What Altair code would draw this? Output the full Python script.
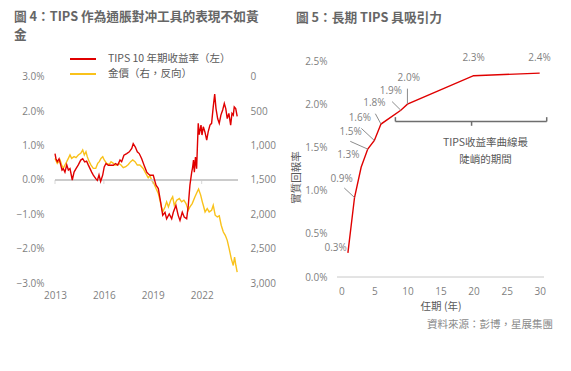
import altair as alt
import pandas as pd

# ---------------- text ----------------
left_title = ["圖 4：TIPS 作為通脹對冲工具的表現不如黃", "金"]
right_title = "圖 5：長期 TIPS 具吸引力"
legend_labels = ["TIPS 10 年期收益率（左）", "金價（右，反向）"]
source_text = "資料來源：彭博，星展集團"
note_lines = ["TIPS收益率曲線最", "陡峭的期間"]
x_title_right = "任期 (年)"
y_title_right = "實質回報率"

# ---------------- ticks ----------------
year_ticks = [2013, 2016, 2019, 2022]
pct_ticks = [-3, -2, -1, 0, 1, 2, 3]
gold_ticks = [0, 500, 1000, 1500, 2000, 2500, 3000]
mat_ticks = [0, 5, 10, 15, 20, 25, 30]
yld_ticks = [0, 0.5, 1, 1.5, 2, 2.5]

# ---------------- left panel data ----------------
red_years = [2013.00, 2013.06, 2013.14, 2013.25, 2013.35, 2013.43, 2013.51, 2013.61, 2013.72, 2013.82,
             2013.92, 2014.06, 2014.17, 2014.29, 2014.43, 2014.58, 2014.70, 2014.82, 2014.94, 2015.04,
             2015.15, 2015.25, 2015.35, 2015.50, 2015.60, 2015.70, 2015.80, 2015.93, 2016.02, 2016.13,
             2016.27, 2016.42, 2016.58, 2016.72, 2016.85, 2016.99, 2017.09, 2017.23, 2017.40, 2017.56,
             2017.71, 2017.80, 2017.93, 2018.05, 2018.17, 2018.32, 2018.46, 2018.63, 2018.72, 2018.83,
             2019.03, 2019.20, 2019.34, 2019.48, 2019.61, 2019.75, 2019.85, 2020.01, 2020.16, 2020.26,
             2020.42, 2020.56, 2020.67, 2020.81, 2020.93, 2021.08, 2021.18, 2021.28, 2021.39, 2021.44,
             2021.50, 2021.55, 2021.62, 2021.69, 2021.79, 2021.85, 2021.96, 2022.02, 2022.10, 2022.20,
             2022.31, 2022.40, 2022.51, 2022.61, 2022.71, 2022.80, 2022.88, 2022.98, 2023.08, 2023.18,
             2023.29, 2023.39, 2023.48, 2023.57, 2023.67, 2023.78, 2023.86, 2023.94, 2024.00, 2024.09,
             2024.18]
red_pct = [0.77, 0.62, 0.53, 0.62, 0.44, 0.29, 0.33, 0.23, 0.44, 0.29,
           0.33, 0.00, 0.23, 0.33, 0.44, 0.58, 0.62, 0.53, 0.55, 0.44,
           0.33, 0.23, 0.14, 0.04, -0.01, 0.15, -0.04, 0.15, 0.38, 0.48,
           0.43, 0.43, 0.43, 0.48, 0.43, 0.58, 0.53, 0.72, 0.77, 0.82,
           0.92, 1.06, 0.96, 0.82, 0.77, 0.62, 0.44, 0.23, 0.18, 0.14,
           0.14, -0.15, -0.25, -0.64, -1.03, -0.94, -1.13, -0.99, -1.13, -0.94,
           -0.74, -1.03, -1.18, -0.94, -1.08, -1.13, -0.74, -0.15, 0.23, 0.35,
           0.58, 0.23, 0.67, 0.33, 1.65, 1.32, 1.60, 1.31, 1.55, 1.40,
           1.16, 1.40, 1.60, 1.65, 2.13, 2.50, 2.08, 1.79, 1.65, 1.89,
           2.04, 2.23, 2.08, 1.79, 1.94, 1.60, 1.94, 1.89, 2.13, 2.08,
           1.85]

gold_years = [2013.00, 2013.14, 2013.31, 2013.41, 2013.51, 2013.61, 2013.72, 2013.82, 2013.92, 2014.02,
              2014.17, 2014.29, 2014.43, 2014.58, 2014.70, 2014.80, 2014.90, 2014.98, 2015.10, 2015.21,
              2015.35, 2015.50, 2015.62, 2015.72, 2015.82, 2015.93, 2016.02, 2016.17, 2016.33, 2016.44,
              2016.58, 2016.68, 2016.79, 2016.91, 2017.05, 2017.19, 2017.34, 2017.50, 2017.64, 2017.77,
              2017.91, 2018.05, 2018.21, 2018.41, 2018.63, 2018.72, 2018.83, 2018.93, 2019.07, 2019.20,
              2019.34, 2019.44, 2019.53, 2019.61, 2019.75, 2019.85, 2019.96, 2020.10, 2020.22, 2020.32,
              2020.47, 2020.63, 2020.77, 2020.91, 2021.04, 2021.18, 2021.28, 2021.42, 2021.59, 2021.73,
              2021.81, 2021.94, 2022.04, 2022.10, 2022.21, 2022.34, 2022.46, 2022.61, 2022.71, 2022.83,
              2022.96, 2023.08, 2023.20, 2023.33, 2023.45, 2023.57, 2023.69, 2023.82, 2023.94, 2024.02,
              2024.10, 2024.18]
gold_vals = [1185, 1258, 1208, 1282, 1331, 1282, 1233, 1185, 1135, 1185,
             1160, 1175, 1135, 1112, 1062, 1135, 1087, 1160, 1233, 1282,
             1331, 1331, 1258, 1233, 1185, 1160, 1208, 1258, 1273, 1233,
             1258, 1282, 1282, 1258, 1282, 1321, 1306, 1273, 1233, 1208,
             1233, 1282, 1282, 1331, 1428, 1467, 1438, 1501, 1551, 1624,
             1697, 1794, 1892, 1965, 1892, 1818, 1892, 1794, 1745, 1867,
             1794, 1770, 1818, 1794, 1843, 1940, 1892, 1843, 1745, 1672,
             1633, 1720, 1818, 1867, 1965, 1917, 1965, 1940, 1867, 2013,
             2038, 2023, 2159, 2257, 2306, 2379, 2502, 2648, 2745, 2623,
             2745, 2843]

# ---------------- right panel data ----------------
curve_mat = [1, 2, 3, 4, 5, 6, 9, 10, 20, 30]
curve_yld = [0.28, 0.92, 1.27, 1.48, 1.58, 1.77, 1.93, 2.00, 2.33, 2.36]

# label anchor positions (data units)
label_x = [-0.86, 0.05, 1.06, 1.41, 2.8, 5.0, 7.5, 10.2, 20.0, 29.97]
label_y = [0.33, 1.14, 1.41, 1.68, 1.84, 2.01, 2.15, 2.30, 2.53, 2.535]
# leader lines: start (data units) for the labelled points
leader_idx = [1, 3, 4, 5, 6, 7]
leader_x = [0.45, 1.36, 3.03, 5.15, 7.68, 10.0]
leader_y = [1.03, 1.57, 1.72, 1.89, 2.03, 2.18]
# bracket annotation segments
br_x = [8.18, 8.18, 31.06, 19.7]
br_y = [1.80, 1.85, 1.85, 1.80]
br_x2 = [31.06, 8.18, 31.06, 19.7]
br_y2 = [1.80, 1.80, 1.80, 1.75]
note_x = [21.8, 21.8]
note_y = [1.555, 1.35]

# ---------------- styles ----------------
NUM = "Open Sans, Noto Sans CJK TC, sans-serif"
CJK = "Noto Sans CJK TC, Noto Sans, sans-serif"
GRAY = "#7f7f7f"
TXT = "#595959"
RED = "#e00000"
GOLD = "#f9c21b"
ZERO = "#c8c8c8"
W1, W2, H = 183, 207, 222


def text_at(txt, x, y, **kw):
    return alt.Chart(pd.DataFrame({"t": [txt]})).mark_text(**kw).encode(
        text="t:N", x=alt.value(x), y=alt.value(y))


def axis_common(**kw):
    base = dict(domain=False, ticks=False, tickSize=0, grid=False, labelFlush=False,
                labelOverlap=False, labelFont=NUM, labelFontSize=10, labelColor=GRAY)
    base.update(kw)
    return alt.Axis(**base)


# shared scale / axis definitions
xs_left = alt.Scale(domain=[2013, 2024.23], nice=False, zero=False)
xa_left = axis_common(values=year_ticks, format="d", labelPadding=7)
ys_left = alt.Scale(domain=[-0.03, 0.03466], nice=False, zero=False)
ya_left = axis_common(values=[v / 100 for v in pct_ticks], format=".1%", orient="left", labelPadding=11)

xs_right = alt.Scale(domain=[-0.65, 30.65], nice=False, zero=False)
xa_right = axis_common(values=mat_ticks, format="d", labelPadding=3,
                       titleFont=CJK, titleFontSize=10.5, titleFontWeight="normal",
                       titleColor=TXT, titleX=W2 / 2, titleY=23.5,
                       titleBaseline="middle", titleAlign="center")
ys_right = alt.Scale(domain=[-0.000694, 0.025], nice=False, zero=False)
ya_right = axis_common(values=[v / 100 for v in yld_ticks], format=".1%", labelPadding=10,
                       titleFont=CJK, titleFontSize=10.5, titleFontWeight="normal",
                       titleColor=TXT, titleX=-41, titleY=116, titleAngle=-90,
                       titleBaseline="middle", titleAlign="center")


def XL(f):
    return alt.X(f, title=None, scale=xs_left, axis=xa_left)


def YL(f):
    return alt.Y(f, title=None, scale=ys_left, axis=ya_left)


def XR(f):
    return alt.X(f, title=x_title_right, scale=xs_right, axis=xa_right)


def YR(f):
    return alt.Y(f, title=y_title_right, scale=ys_right, axis=ya_right)


# ================= LEFT PANEL =================
red_df = pd.DataFrame({"year": red_years, "tips": [v / 100 for v in red_pct]})
gold_df = pd.DataFrame({"year": gold_years, "gold": gold_vals})
zero_df = pd.DataFrame({"year": year_ticks, "tips": [0.0] * len(year_ticks)})

red_line = alt.Chart(red_df).mark_line(color=RED, strokeWidth=1.4).encode(
    x=XL("year:Q"), y=YL("tips:Q"))

zero_left = alt.Chart(zero_df).mark_rule(color=ZERO, strokeWidth=1).encode(
    y=YL("tips:Q"), x=alt.value(0), x2=alt.value(W1))

ticks_left = alt.Chart(zero_df).mark_tick(
    orient="vertical", size=4, thickness=1, yOffset=2, color=ZERO).encode(
    x=XL("year:Q"), y=YL("tips:Q"))

leg_red = alt.Chart(pd.DataFrame({"k": [0]})).mark_rule(color=RED, strokeWidth=2).encode(
    x=alt.value(15), x2=alt.value(41), y=alt.value(-2))
leg_gold = alt.Chart(pd.DataFrame({"k": [0]})).mark_rule(color=GOLD, strokeWidth=2).encode(
    x=alt.value(15), x2=alt.value(41), y=alt.value(13))

tstyle = dict(align="left", baseline="middle", font=CJK, fontSize=12.7, fontWeight="bold", color="#666666")
lstyle = dict(align="left", baseline="middle", font=CJK, fontSize=10.5, color=TXT)

red_group = alt.layer(
    zero_left, ticks_left, red_line, leg_red, leg_gold,
    text_at(legend_labels[0], 53, -2, **lstyle),
    text_at(legend_labels[1], 53, 13, **lstyle),
    text_at(left_title[0], -41, -44, **tstyle),
    text_at(left_title[1], -41, -26, **tstyle),
)

gold_line = alt.Chart(gold_df).mark_line(color=GOLD, strokeWidth=1.4).encode(
    x=XL("year:Q"),
    y=alt.Y("gold:Q", title=None,
            scale=alt.Scale(domain=[-233, 3000], reverse=True, nice=False, zero=False),
            axis=axis_common(values=gold_ticks, format=",d", orient="right", labelPadding=12)),
)

left = alt.layer(gold_line, red_group).resolve_scale(y="independent").properties(width=W1, height=H)

# ================= RIGHT PANEL =================
curve_df = pd.DataFrame({"mat": curve_mat, "yld": [v / 100 for v in curve_yld]})
label_df = pd.DataFrame({"mat": label_x, "yld": [v / 100 for v in label_y],
                         "val": [v / 100 for v in curve_yld]})
leader_df = pd.DataFrame({"mat": leader_x, "yld": [v / 100 for v in leader_y],
                          "ex": [curve_mat[i] for i in leader_idx],
                          "ey": [curve_yld[i] / 100 for i in leader_idx]})
bracket_df = pd.DataFrame({"mat": br_x, "yld": [v / 100 for v in br_y],
                           "bx2": br_x2, "by2": [v / 100 for v in br_y2]})
note_df = pd.DataFrame({"mat": note_x, "yld": [v / 100 for v in note_y], "t": note_lines})
zero_r_df = pd.DataFrame({"mat": [0], "yld": [0.0]})

curve = alt.Chart(curve_df).mark_line(color=RED, strokeWidth=1.4).encode(
    x=XR("mat:Q"), y=YR("yld:Q"))

zero_right = alt.Chart(zero_r_df).mark_rule(color=ZERO, strokeWidth=1).encode(
    y=YR("yld:Q"), x=alt.value(0), x2=alt.value(W2))

labels = alt.Chart(label_df).mark_text(font=NUM, fontSize=10, color=GRAY,
                                       align="center", baseline="middle").encode(
    x=XR("mat:Q"), y=YR("yld:Q"), text=alt.Text("val:Q", format=".1%"))

leaders = alt.Chart(leader_df).mark_rule(color="#8c8c8c", strokeWidth=1).encode(
    x=XR("mat:Q"), y=YR("yld:Q"), x2="ex:Q", y2="ey:Q")

bracket = alt.Chart(bracket_df).mark_rule(color="#6e6e6e", strokeWidth=1.5).encode(
    x=XR("mat:Q"), y=YR("yld:Q"), x2="bx2:Q", y2="by2:Q")

note = alt.Chart(note_df).mark_text(font=CJK, fontSize=10.5, color=TXT,
                                    align="center", baseline="middle").encode(
    x=XR("mat:Q"), y=YR("yld:Q"), text="t:N")

right = alt.layer(
    zero_right, curve, leaders, labels, bracket, note,
    text_at(right_title, -41, -43, **tstyle),
    text_at(source_text, 216, 264, align="right", baseline="middle", font=CJK,
            fontSize=10.5, color="#8a8a8a"),
).properties(width=W2, height=H)

chart = alt.hconcat(left, right, spacing=99, bounds="flush").properties(
    padding={"left": 6, "top": 3, "right": 4, "bottom": 4}
).configure_view(stroke=None)

chart.save("out.html", embed_options={"renderer": "svg", "actions": False})
